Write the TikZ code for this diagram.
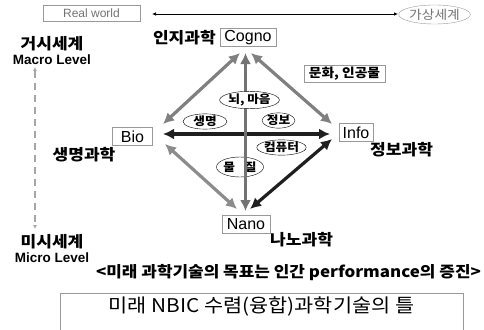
\documentclass[tikz,border=0pt]{standalone}
\usepackage{fontspec}
\setmainfont{Liberation Sans}
\newfontfamily\kr[FakeStretch=1.1]{Noto Sans CJK KR}
\usetikzlibrary{arrows.meta,shapes.geometric}
\begin{document}
\begin{tikzpicture}[x=1pt,y=-1pt,
 lbl/.style={font=\kr\bfseries\fontsize{15.5}{17}\selectfont, inner sep=0},
 lvl/.style={font=\bfseries\fontsize{13.5}{15}\selectfont, inner sep=0},
 bx/.style={draw=gray!80, font=\fontsize{16}{18}\selectfont, inner sep=1.5pt, minimum height=18pt},
 oval/.style={ellipse, draw, fill=white, font=\kr\bfseries\fontsize{11.5}{13}\selectfont, inner sep=0},
 arr/.style={line width=3.2pt, {Latex[length=11pt,width=11pt]}-{Latex[length=11pt,width=11pt]}},
]
\useasboundingbox (0,0) rectangle (484,329);
\clip (0,0) rectangle (484,329);
\fill[white] (0,0) rectangle (484,329);

% top row
\node[draw=gray!80, minimum width=97pt, minimum height=16pt, inner sep=0, text=gray!90!black, font=\fontsize{12}{14}\selectfont] (real) at (91.5,13) {Real world};
\node[ellipse, draw=gray!80, minimum width=69pt, minimum height=19pt, inner sep=0, text=gray!90!black, font=\kr\fontsize{12.5}{14}\selectfont] (virt) at (434.5,14.5) {가상세계};
\coordinate (rwL) at (152,14);
\coordinate (rwR) at (398,14);
\draw[line width=0.7pt, {Latex[length=4pt,width=3.5pt]}-{Latex[length=4pt,width=3.5pt]}] (rwL) -- (rwR);

% level axis
\node[lbl] (macroK) at (52,44) {거시세계};
\node[lvl] (macro) at (52,60) {Macro Level};
\node[lbl] (microK) at (52,242) {미시세계};
\node[lvl] (micro) at (52,258) {Micro Level};
\coordinate (axT) at (35,67);
\coordinate (axB) at (35,229);
\draw[gray!70, line width=1.6pt, dash pattern=on 7pt off 5pt, {Latex[length=4pt,width=4pt]}-{Latex[length=4pt,width=4pt]}] (axT) -- (axB);

% corner boxes
\node[bx, minimum width=56pt] (cogno) at (248,37.5) {Cogno};
\node[bx, minimum width=40pt] (bio) at (132.5,136.5) {Bio};
\node[bx, minimum width=34pt] (info) at (356,132.5) {Info};
\node[bx, minimum width=48pt] (nano) at (246,224.5) {Nano};
\node[lbl, anchor=east] (cognoK) at (216,38) {인지과학};
\node[lbl] (bioK) at (84,155) {생명과학};
\node[lbl, anchor=west] (infoK) at (370,150) {정보과학};
\node[lbl, anchor=west] (nanoK) at (270,240) {나노과학};
\node[draw=gray!80, minimum width=81pt, minimum height=17pt, inner sep=0, font=\kr\bfseries\fontsize{12.5}{14}\selectfont] (culture) at (344.5,73.5) {문화, 인공물};

% arrow end points
\coordinate (cUL) at (240,53);
\coordinate (cV) at (245.5,53);
\coordinate (cUR) at (251,53);
\coordinate (bUL) at (163,124);
\coordinate (bH) at (163,134);
\coordinate (bLL) at (165,144);
\coordinate (iUR) at (332,124);
\coordinate (iH) at (330,134);
\coordinate (iLR) at (332,139);
\coordinate (nLL) at (237,209);
\coordinate (nV) at (245.5,211);
\coordinate (nLR) at (250,209);

\node[oval, minimum width=44pt, minimum height=20pt] (matter) at (240,167) {물\hspace{10pt}질};

\draw[arr, draw=black!50] (cUL) -- (bUL);
\draw[arr, draw=black!50] (cUR) -- (iUR);
\draw[arr, draw=black!45] (bLL) -- (nLL);
\draw[arr, draw=black!88] (iLR) -- (nLR);
\draw[arr, draw=black!88] (bH) -- (iH);
\draw[arr, draw=black!55, line width=3.6pt] (nV) -- (cV);

\node[oval, minimum width=55pt, minimum height=15pt] (brain) at (249.5,100) {뇌, 마음};
\node[oval, minimum width=44pt, minimum height=14pt] (life) at (205,121.5) {생명};
\node[oval, minimum width=28pt, minimum height=15pt] (infoO) at (278.5,120.5) {정보};
\node[oval, minimum width=43pt, minimum height=15pt] (comp) at (281.5,147.5) {컴퓨터};

% bottom
\node[font=\kr\bfseries\fontsize{15.4}{17}\selectfont, inner sep=0] (goal) at (288.5,273) {<미래 과학기술의 목표는 인간 performance의 증진>};
\node[draw=gray!80, minimum width=403pt, minimum height=50pt, anchor=north west, inner sep=0] (frame) at (60,293) {};
\node[font=\kr\fontsize{18.9}{21}\selectfont, inner sep=0] (title) at (261.5,306) {미래 NBIC 수렴(융합)과학기술의 틀};
\end{tikzpicture}
\end{document}
